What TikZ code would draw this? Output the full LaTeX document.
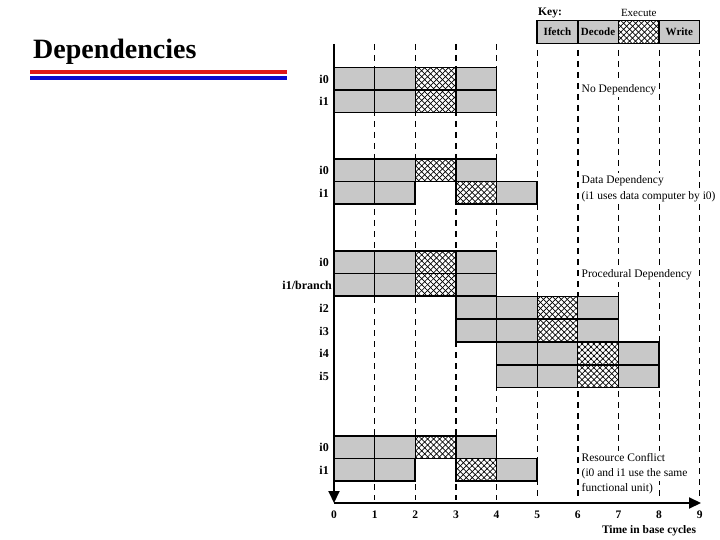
\documentclass[tikz,border=0pt]{standalone}
\usepackage{fontspec}
\setmainfont{Liberation Serif}
\usetikzlibrary{arrows.meta, patterns.meta, positioning}

\definecolor{cellgray}{RGB}{200,200,200}
\definecolor{rulered}{RGB}{222,24,24}
\definecolor{ruleblue}{RGB}{10,10,205}

\def\cw{40.63}
\def\rh{22.6}

\begin{document}
\begin{tikzpicture}[x=1pt, y=-1pt,
	stagebox/.style={draw=black, line width=0.7pt, fill=cellgray},
	execbox/.style={draw=black, line width=1.3pt,
		preaction={fill=white},
		preaction={pattern={Lines[angle=45,distance=4.2pt,line width=0.7pt]}},
		preaction={pattern={Lines[angle=-45,distance=4.2pt,line width=0.7pt]}}},
	rowline/.style={draw=black, line width=1.6pt},
	gridline/.style={dash pattern=on 6pt off 5pt},
	axis/.style={line width=2pt, -{Triangle[length=12pt,width=11pt]}},
	rowlabel/.style={font=\fontsize{12}{14}\selectfont\bfseries, anchor=east, inner sep=0pt},
	note/.style={font=\fontsize{11.5}{13}\selectfont, anchor=west, fill=white, inner sep=1pt, text height=9.5pt, text depth=3.5pt},
	ticklabel/.style={font=\fontsize{11.5}{13}\selectfont\bfseries},
	keycell/.style={draw=black, font=\fontsize{11}{13}\selectfont\bfseries, minimum width=\cw pt, minimum height=22.6pt, inner sep=0pt, outer sep=0pt, line width=1.5pt}]
\useasboundingbox (0,0) rectangle (720,540);

% title and rules
\node[font=\fontsize{28}{30}\selectfont\bfseries, anchor=base west, inner sep=0pt] (title) at (33,59) {Dependencies};
\fill[rulered] (30,69.7) rectangle (287,73.7);
\fill[ruleblue] (30,75.7) rectangle (287,79.7);

% key
\node[keycell, fill=cellgray] (kif) at ({334+5.5*\cw},32) {Ifetch};
\node[keycell, fill=cellgray, right=0pt of kif] (kde) {Decode};
\node[keycell, execbox, line width=1.5pt, right=0pt of kde] (kex) {};
\node[keycell, fill=cellgray, right=0pt of kex] (kwr) {Write};
\node[font=\fontsize{11}{13}\selectfont, above=1pt of kex] (kexl) {Execute};
\node[font=\fontsize{11.5}{13}\selectfont\bfseries, anchor=base west, inner sep=0pt] (key) at (538,16) {Key:};

% cycle grid
\foreach \k/\top/\w in {1/44/0.8,2/44/0.8,3/44/1.6,4/44/0.8,5/50/0.8,6/50/1.6,7/50/1.6,8/50/0.8,9/50/1.6}
	\draw[gridline, line width=\w pt] ({334+\k*\cw},\top) -- ({334+\k*\cw},500);

% pipelines without stall
\foreach \c/\t in {0/67.5,0/90.1,0/159,0/250.8,0/273.6,3/296.4,3/319.2,4/342,4/364.8,0/436} {
	\draw[stagebox] ({334+\c*\cw},\t) rectangle +(\cw,\rh);
	\draw[stagebox] ({334+(\c+1)*\cw},\t) rectangle +(\cw,\rh);
	\draw[execbox] ({334+(\c+2)*\cw},\t) rectangle +(\cw,\rh);
	\draw[stagebox] ({334+(\c+3)*\cw},\t) rectangle +(\cw,\rh);
	\draw[rowline] ({334+\c*\cw},\t) rectangle +(4*\cw,\rh);
}

% pipelines with one stall
\foreach \t in {181.6,458.6} {
	\draw[stagebox] (334,\t) rectangle +(\cw,\rh);
	\draw[stagebox] ({334+\cw},\t) rectangle +(\cw,\rh);
	\draw[execbox] ({334+3*\cw},\t) rectangle +(\cw,\rh);
	\draw[stagebox] ({334+4*\cw},\t) rectangle +(\cw,\rh);
	\draw[rowline] (334,\t) rectangle +(2*\cw,\rh);
	\draw[rowline] ({334+3*\cw},\t) rectangle +(2*\cw,\rh);
}

% axes
\coordinate (ytop) at (334,44);
\coordinate (origin) at (334,503);
\coordinate (xend) at (701,503);
\draw[axis] (ytop) -- (origin);
\draw[axis] (origin) -- (xend);

\foreach \k in {0,...,9}
	\node[ticklabel] (t\k) at ({334+\k*\cw},515) {\k};
\node[ticklabel] (xlab) at (649,531) {Time in base cycles};

% instruction labels
\node[rowlabel] (nd0) at (329,79) {i0};
\node[rowlabel] (nd1) at (329,101) {i1};
\node[rowlabel] (dd0) at (329,170) {i0};
\node[rowlabel] (dd1) at (329,193) {i1};
\node[rowlabel] (pd0) at (329,262) {i0};
\node[rowlabel] (pd1) at (332,285) {i1/branch};
\node[rowlabel] (pd2) at (329,308) {i2};
\node[rowlabel] (pd3) at (329,331) {i3};
\node[rowlabel] (pd4) at (329,353) {i4};
\node[rowlabel] (pd5) at (329,376) {i5};
\node[rowlabel] (rc0) at (329,447) {i0};
\node[rowlabel] (rc1) at (329,470) {i1};

% notes
\node[note] (ndn) at (580.5,90) {No Dependency};
\node[note] (ddn) at (580.5,181) {Data Dependency};
\node[note, anchor=north west] (ddm) at (ddn.south west) {(i1 uses data computer by i0)};
\node[note] (pdn) at (580.5,274) {Procedural Dependency};
\node[note] (rcn) at (580.5,458) {Resource Conflict};
\node[note, anchor=north west] (rcm) at (rcn.south west) {(i0 and i1 use the same};
\node[note, anchor=north west] (rcb) at (rcm.south west) {functional unit)};
\end{tikzpicture}
\end{document}
